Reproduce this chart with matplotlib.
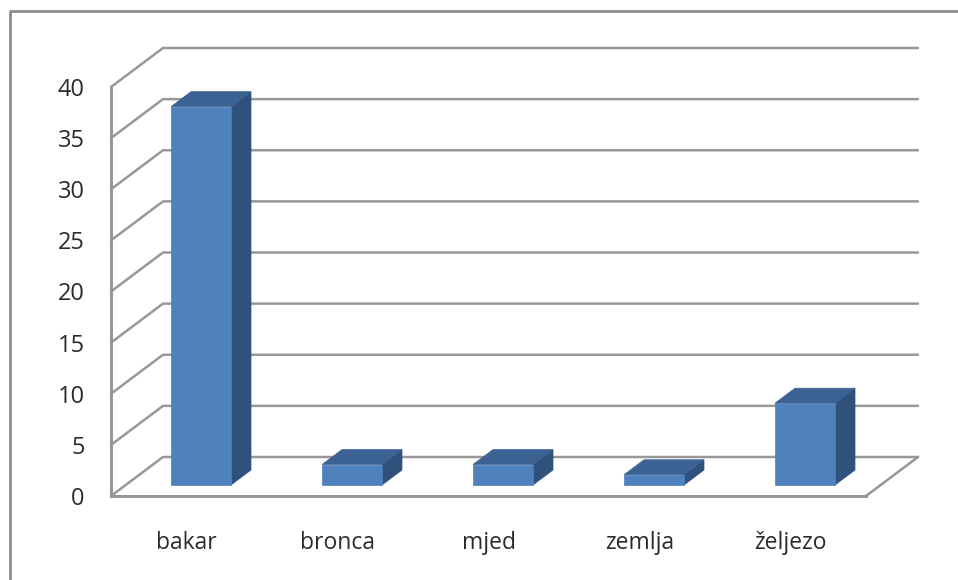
import matplotlib
matplotlib.use("Agg")
import matplotlib.pyplot as plt
from matplotlib.lines import Line2D
from matplotlib.patches import Polygon

categories = ["bakar", "bronca", "mjed", "zemlja", "željezo"]
values = [37, 2, 2, 1, 8]
y_ticks = [0, 5, 10, 15, 20, 25, 30, 35, 40]

W, H = 958, 580
L, R, B, T = 111, 866, 496, 87
GRID = "#989898"
FRONT, TOP, SIDE = "#4f81bd", "#3b6292", "#30517c"

plt.rcParams["font.family"] = ["Open Sans", "DejaVu Sans"]
fig = plt.figure(figsize=(W / 100, H / 100), dpi=100, facecolor="white")
# outer chart border: only its left and top edges fall inside the image
fig.add_artist(Line2D([9.5 / W, 9.5 / W, 1], [0, 1 - 11 / H, 1 - 11 / H],
                      transform=fig.transFigure, color="#8c8c8c", lw=2))
ax = fig.add_axes([L / W, 1 - B / H, (R - L) / W, (B - T) / H])
ax.set_xlim(-0.5, 4.5)
ax.set_ylim(0, 40)
ax.patch.set_visible(False)

ux = (R - L) / 5      # pixels per category
uy = (B - T) / 40     # pixels per value unit
depth_x, depth_y = 52 / ux, 39 / uy          # plot-wall depth
bar_w = 60 / ux
bar_dx, bar_dy = 20 / ux, 15 / uy            # bar depth
off_x, off_y = 14.5 / ux, 11 / uy            # bar position inside the floor

line = dict(color=GRID, lw=1.8, clip_on=False, solid_capstyle="round", zorder=1)
x0, x1 = -0.5, 4.5
for v in y_ticks:
    ax.plot([x0, x0 + depth_x, x1 + depth_x], [v, v + depth_y, v + depth_y], **line)
ax.plot([x1, x1 + depth_x], [0, depth_y], **line)

for i, v in enumerate(values):
    xa = i + off_x - bar_w / 2
    xb = xa + bar_w
    ya, yb = off_y, off_y + v
    kw = dict(closed=True, clip_on=False, zorder=3, lw=0.5)
    ax.add_patch(Polygon([(xb, ya), (xb + bar_dx, ya + bar_dy), (xb + bar_dx, yb + bar_dy), (xb, yb)],
                         fc=SIDE, ec=SIDE, **kw))
    ax.add_patch(Polygon([(xa, yb), (xa + bar_dx, yb + bar_dy), (xb + bar_dx, yb + bar_dy), (xb, yb)],
                         fc=TOP, ec=TOP, **kw))
    ax.add_patch(Polygon([(xa, ya), (xb, ya), (xb, yb), (xa, yb)], fc=FRONT, ec=FRONT, **kw))

for s in ["top", "right"]:
    ax.spines[s].set_visible(False)
for s in ["left", "bottom"]:
    ax.spines[s].set_color(GRID)
    ax.spines[s].set_linewidth(2.2)
ax.set_xticks(range(len(categories)))
ax.set_xticklabels(categories)
ax.set_yticks(y_ticks)
ax.tick_params(axis="x", length=0, pad=25, labelsize=16.5, labelcolor="#2b2b2b")
ax.tick_params(axis="y", length=0, pad=19, labelsize=17, labelcolor="#2b2b2b")

fig.savefig("out.png", dpi=100, facecolor="white")
